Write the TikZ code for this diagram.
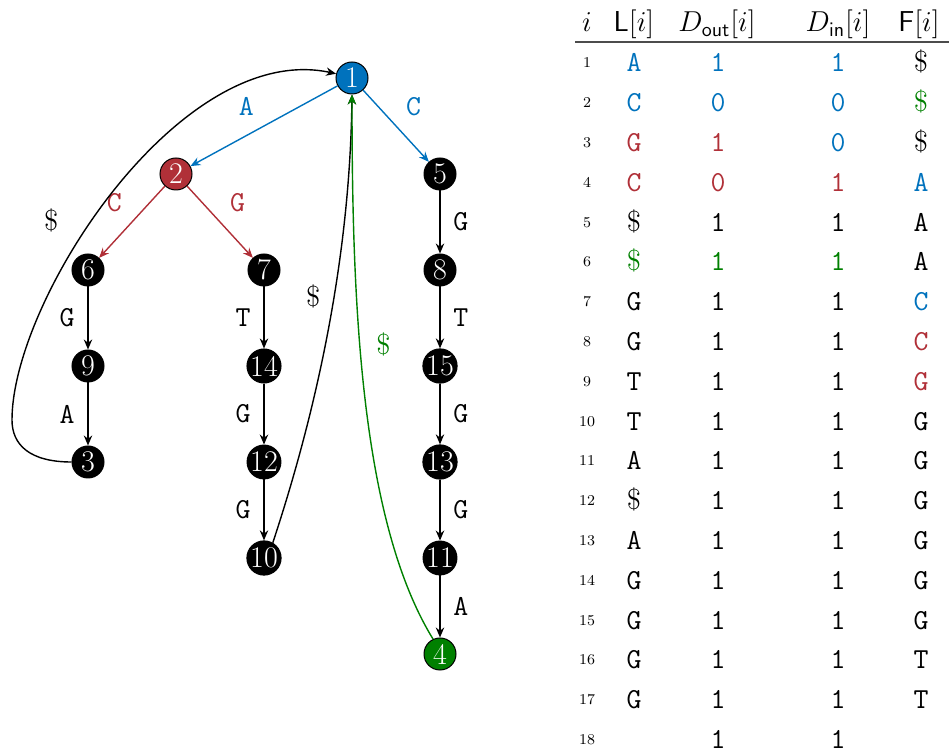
\documentclass[tikz,border=0pt]{standalone}
\usepackage{amsmath}
\usepackage{xcolor}
\usepackage{tikz}
\usetikzlibrary{positioning, arrows.meta}
\definecolor{seqblue}{HTML}{0072BD}
\definecolor{seqred}{HTML}{B03038}
\definecolor{seqgreen}{HTML}{008000}
\newcommand{\sentinel}{\textrm{\$}}

\begin{document}
\begin{tikzpicture}[
  x=0.5pt, y=0.5pt,
  node distance=48pt,
  state/.style={circle, draw=black, line width=0.5pt, fill=black, text=white,
                minimum size=16pt, inner sep=0pt, on grid,
                font=\fontsize{15}{15}\selectfont},
  sym/.style={font=\fontsize{14.5}{16}\selectfont\ttfamily},
  walk/.style={-{Stealth[length=5pt, width=4.2pt]}, line width=0.7pt},
  idx/.style={anchor=base, font=\fontsize{7.5}{8}\selectfont},
  cell/.style={anchor=base, font=\fontsize{14.5}{16}\selectfont\ttfamily},
  head/.style={anchor=base, font=\fontsize{14.5}{16}\selectfont}
]
\useasboundingbox (0,0) rectangle (949,-753);

% the graph
\node[state, fill=seqblue]  (n1) at (352,-78) {1};
\node[state, fill=seqred, below left=48pt and 88pt of n1]  (n2) {2};
\node[state, below right=48pt and 44pt of n1] (n5) {5};
\node[state, below left=48pt and 44pt of n2]  (n6) {6};
\node[state, below right=48pt and 44pt of n2] (n7) {7};
\node[state, below=of n5]  (n8)  {8};
\node[state, below=of n6]  (n9)  {9};
\node[state, below=of n9]  (n3)  {3};
\node[state, below=of n7]  (n14) {14};
\node[state, below=of n14] (n12) {12};
\node[state, below=of n12] (n10) {10};
\node[state, below=of n8]  (n15) {15};
\node[state, below=of n15] (n13) {13};
\node[state, below=of n13] (n11) {11};
\node[state, fill=seqgreen, below=of n11] (n4) {4};

% coloured first steps
\draw[walk, seqblue] (n1) -- node[sym, above left=2pt]  {A} (n2);
\draw[walk, seqblue] (n1) -- node[sym, above right=2pt] {C} (n5);
\draw[walk, seqred]  (n2) -- node[sym, above left=2pt]  {C} (n6);
\draw[walk, seqred]  (n2) -- node[sym, above right=2pt] {G} (n7);

% straight runs
\draw[walk] (n6)  -- node[sym, left=3pt]  {G} (n9);
\draw[walk] (n9)  -- node[sym, left=3pt]  {A} (n3);
\draw[walk] (n7)  -- node[sym, left=3pt]  {T} (n14);
\draw[walk] (n14) -- node[sym, left=3pt]  {G} (n12);
\draw[walk] (n12) -- node[sym, left=3pt]  {G} (n10);
\draw[walk] (n5)  -- node[sym, right=3pt] {G} (n8);
\draw[walk] (n8)  -- node[sym, right=3pt] {T} (n15);
\draw[walk] (n15) -- node[sym, right=3pt] {G} (n13);
\draw[walk] (n13) -- node[sym, right=3pt] {G} (n11);
\draw[walk] (n11) -- node[sym, right=3pt] {A} (n4);

% back edges to the root
\coordinate (loopbend) at (12,-420);
\draw[walk] (n3.west) .. controls (30,-462) and (12,-445) .. (loopbend)
  .. controls (12,-300) and (180,-40) ..
  node[sym, pos=0.4, xshift=-15pt, yshift=8pt] {\sentinel} (n1.165);
\draw[walk] (n10.60) .. controls (320,-400) and (350,-250) ..
  node[sym, pos=0.55, xshift=-10pt, yshift=2pt] {\sentinel} (n1.south);
\draw[walk, seqgreen] (n4.115) .. controls (360,-520) and (352,-300) ..
  node[sym, pos=0.6, xshift=12pt, yshift=-2pt] {\sentinel} (n1.south);

% table header
\node[head] (h-i)    at (587,-32) {$i$};
\node[head] (h-L)    at (634,-32) {$\mathsf{L}[i]$};
\node[head] (h-Dout) at (717,-32) {$D_{\mathsf{out}}[i]$};
\node[head] (h-Din)  at (838,-32) {$D_{\mathsf{in}}[i]$};
\node[head] (h-F)    at (919,-32) {$\mathsf{F}[i]$};
\draw[black!70, line width=1pt] (575,-42) -- (949,-42);

% table rows
\foreach \r/\l/\o/\n/\f [evaluate=\r as \yb using -72-(\r-1)*39.8] in {
  1/\textcolor{seqblue}{A}/\textcolor{seqblue}{1}/\textcolor{seqblue}{1}/\sentinel,
  2/\textcolor{seqblue}{C}/\textcolor{seqblue}{0}/\textcolor{seqblue}{0}/\textcolor{seqgreen}{\sentinel},
  3/\textcolor{seqred}{G}/\textcolor{seqred}{1}/\textcolor{seqblue}{0}/\sentinel,
  4/\textcolor{seqred}{C}/\textcolor{seqred}{0}/\textcolor{seqred}{1}/\textcolor{seqblue}{A},
  5/\sentinel/1/1/A,
  6/\textcolor{seqgreen}{\sentinel}/\textcolor{seqgreen}{1}/\textcolor{seqgreen}{1}/A,
  7/G/1/1/\textcolor{seqblue}{C},
  8/G/1/1/\textcolor{seqred}{C},
  9/T/1/1/\textcolor{seqred}{G},
  10/T/1/1/G,
  11/A/1/1/G,
  12/\sentinel/1/1/G,
  13/A/1/1/G,
  14/G/1/1/G,
  15/G/1/1/G,
  16/G/1/1/T,
  17/G/1/1/T,
  18/{}/1/1/{}}
{
  \node[idx]  (i-\r)    at (587,\yb+4) {\r};
  \node[cell] (L-\r)    at (634,\yb)   {\l};
  \node[cell] (Dout-\r) at (718,\yb)   {\o};
  \node[cell] (Din-\r)  at (838,\yb)   {\n};
  \node[cell] (F-\r)    at (921,\yb)   {\f};
}
\end{tikzpicture}
\end{document}
